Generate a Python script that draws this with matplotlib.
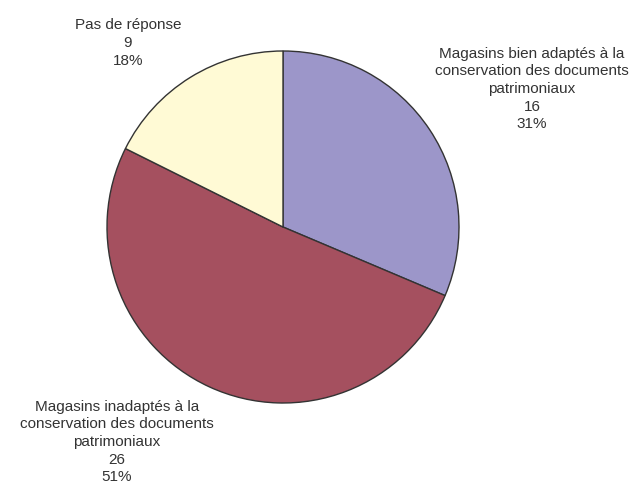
import matplotlib
matplotlib.use("Agg")
import matplotlib.pyplot as plt

labels = ["Magasins bien adaptés à la\nconservation des documents\npatrimoniaux",
          "Magasins inadaptés à la\nconservation des documents\npatrimoniaux",
          "Pas de réponse"]
values = [16, 26, 9]
percents = ["31%", "51%", "18%"]
colors = ["#9C96C9", "#A5505F", "#FFFAD5"]

plt.rcParams['font.family'] = ['Liberation Sans', 'DejaVu Sans']

W, H = 633, 485
fig = plt.figure(figsize=(W / 100, H / 100), dpi=100)
cx, cy, r = 283, 228, 176
ax = fig.add_axes([(cx - r) / W, (H - cy - r) / H, 2 * r / W, 2 * r / H])
ax.pie(values, colors=colors, startangle=90, counterclock=False,
       wedgeprops=dict(edgecolor="#333333", linewidth=1.0))
ax.set_aspect('equal')
ax.set_xlim(-1, 1)
ax.set_ylim(-1, 1)

label_pos = [(532, 89), (117, 442), (128, 43)]
for lab, v, p, (x, y) in zip(labels, values, percents, label_pos):
    fig.text(x / W, 1 - y / H, f"{lab}\n{v}\n{p}", ha="center", va="center",
             fontsize=11, color="#333333", linespacing=1.32)

fig.savefig("out.png", dpi=100)
